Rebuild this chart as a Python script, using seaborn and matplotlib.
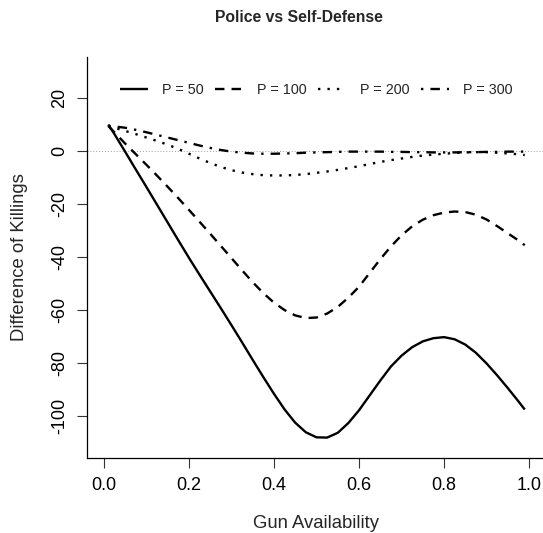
import numpy as np
import pandas as pd
import matplotlib
matplotlib.use("Agg")
import matplotlib.pyplot as plt
import seaborn as sns

# ---- data ----
gun_availability = [0.01, 0.025, 0.05, 0.075, 0.10, 0.125, 0.15, 0.175, 0.20, 0.225,
                     0.25, 0.275, 0.30, 0.325, 0.35, 0.375, 0.40, 0.425, 0.45, 0.475,
                     0.50, 0.525, 0.55, 0.575, 0.60, 0.625, 0.65, 0.675, 0.70, 0.725,
                     0.75, 0.775, 0.80, 0.825, 0.85, 0.875, 0.90, 0.925, 0.95, 0.975, 0.99]
p50 = [10, 6.3, -0.3, -7, -13.6, -20.3, -27, -33.7, -40.3, -46.7,
       -53, -59.3, -65.7, -72.2, -78.8, -85.3, -91.6, -97.5, -102.5, -106.1,
       -108, -108.1, -106.3, -102.6, -97.8, -92.2, -86.6, -81.3, -77.2, -74.0,
       -71.8, -70.6, -70.2, -71.0, -73.0, -76.1, -80.1, -84.6, -89.4, -94.4, -97.5]
p100 = [9.5, 7, 2.8, -1.2, -5.2, -9.3, -13.5, -17.8, -22.2, -26.7,
        -31.2, -35.8, -40.4, -45, -49.5, -53.6, -57.2, -60, -62, -63,
        -62.8, -61.3, -58.8, -55.3, -51.2, -46, -40.8, -36, -31.8, -28.4,
        -25.9, -24.2, -23.2, -22.8, -23, -24, -25.8, -28.3, -31, -33.7, -35.5]
p200 = [9.5, 8.8, 7.6, 6.4, 5.1, 3.8, 2.4, 0.8, -1, -2.8,
        -4.5, -6, -7.2, -8.1, -8.7, -9.1, -9.2, -9.2, -9, -8.7,
        -8.2, -7.7, -7.1, -6.4, -5.7, -4.9, -4.1, -3.4, -2.8, -2.2,
        -1.7, -1.3, -1, -0.7, -0.5, -0.4, -0.4, -0.6, -0.9, -1.2, -1.5]
p300 = [9.5, 9.3, 8.8, 8, 7.1, 6.1, 5.1, 4.1, 3.1, 2.1,
        1.2, 0.4, -0.2, -0.6, -0.9, -1, -1, -0.9, -0.8, -0.6,
        -0.5, -0.4, -0.3, -0.2, -0.2, -0.2, -0.2, -0.3, -0.3, -0.4,
        -0.4, -0.5, -0.5, -0.5, -0.4, -0.4, -0.3, -0.3, -0.2, -0.2, -0.2]
series_labels = ["P = 50", "P = 100", "P = 200", "P = 300"]
x_ticks = [0.0, 0.2, 0.4, 0.6, 0.8, 1.0]
x_tick_labels = ["0.0", "0.2", "0.4", "0.6", "0.8", "1.0"]
y_ticks = [-100, -80, -60, -40, -20, 0, 20]
y_tick_labels = ["-100", "-80", "-60", "-40", "-20", "0", "20"]

sns.set_style("ticks")
plt.rcParams["font.family"] = ["Liberation Sans", "DejaVu Sans"]
plt.rcParams["axes.unicode_minus"] = False

fig = plt.figure(figsize=(5.43, 5.33), dpi=100)
ax = fig.add_axes([87/543, 1-458/533, (546-87)/543, (458-57)/533])

ax.axhline(0, color="#a0a0a0", lw=0.7, ls=(0, (1, 2)), zorder=1)

styles = [(0, ()), (0, (4, 3)), (0, (1, 3)), (0, (1, 3, 4, 3))]
for vals, lab, st in zip([p50, p100, p200, p300], series_labels, styles):
    df = pd.DataFrame({"x": gun_availability, "y": vals})
    sns.lineplot(data=df, x="x", y="y", ax=ax, color="black", lw=1.7,
                 linestyle=st, label=lab, zorder=3)

ax.set_xlim(-0.04, 1.04)
ax.set_ylim(-115.8, 35.5)
ax.set_xticks(x_ticks)
ax.set_xticklabels(x_tick_labels)
ax.set_yticks(y_ticks)
ax.set_yticklabels(y_tick_labels, rotation=90, va="center")
ax.tick_params(axis="both", length=7, width=0.8, color="#333333",
               labelsize=13, pad=6.5, labelcolor="black")
ax.set_xlabel("")
ax.set_ylabel("")
for s in ["top", "right"]:
    ax.spines[s].set_visible(False)
for s in ["left", "bottom"]:
    ax.spines[s].set_color("black")
    ax.spines[s].set_linewidth(0.9)

leg = ax.legend(loc="center", bbox_to_anchor=(0.5, (458-90)/(458-57)), ncol=4,
                frameon=False, fontsize=10.4, handlelength=1.9,
                handletextpad=1.0, columnspacing=0.8)

fig.text(299/543, 1-18/533, "Police vs Self-Defense", ha="center", va="center",
         fontsize=11.3, fontweight="bold")
fig.text(316/543, 1-523/533, "Gun Availability", ha="center", va="center",
         fontsize=13.3)
fig.text(20/543, 1-257/533, "Difference of Killings", ha="center", va="center",
         rotation=90, fontsize=13.3)

fig.savefig("out.png", dpi=100)
